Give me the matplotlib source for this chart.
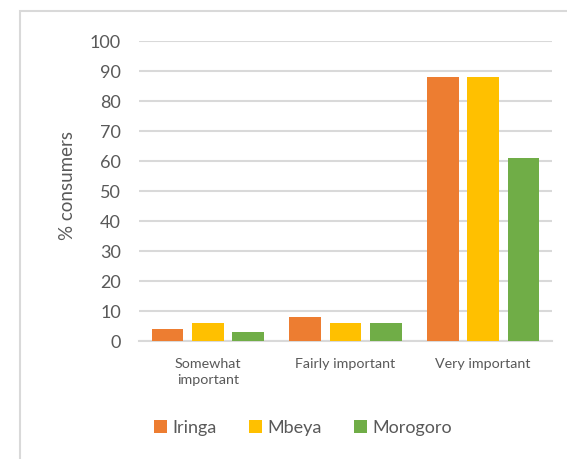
import matplotlib
matplotlib.use("Agg")
import matplotlib.pyplot as plt
from matplotlib.patches import Rectangle
import numpy as np

categories = ["Somewhat\nimportant", "Fairly important", "Very important"]
series_names = ["Iringa", "Mbeya", "Morogoro"]
iringa = [4, 8, 88]
mbeya = [6, 6, 88]
morogoro = [3, 6, 61]
colors = ["#ED7D31", "#FFC000", "#70AD47"]
yticks = [0, 10, 20, 30, 40, 50, 60, 70, 80, 90, 100]

plt.rcParams['font.family'] = ['Lato', 'DejaVu Sans']
W, H = 567, 459
fig = plt.figure(figsize=(W/100, H/100), dpi=100)
ax = fig.add_axes([139/W, 1-341/H, (552-139)/W, 300/H])

x = np.arange(len(categories))
bw = 0.232
step = 0.293
vals = [iringa, mbeya, morogoro]
for i, (name, v, c) in enumerate(zip(series_names, vals, colors)):
    ax.bar(x + (i-1)*step, v, width=bw, color=c, label=name, zorder=3)

ax.set_xlim(-0.5, 2.5)
ax.set_ylim(0, 100)
ax.set_yticks(yticks)
ax.set_yticklabels([str(t) for t in yticks], fontsize=13, color="#595959")
ax.set_xticks(x)
ax.set_xticklabels(categories, fontsize=10.3, color="#595959", linespacing=1.45)
ax.tick_params(axis='both', length=0)
ax.tick_params(axis='y', pad=13)
ax.tick_params(axis='x', pad=12)
ax.grid(axis='y', color="#D9D9D9", linewidth=1.5, zorder=0)
ax.set_axisbelow(True)
for s in ['top', 'right', 'left']:
    ax.spines[s].set_visible(False)
ax.spines['bottom'].set_color("#D9D9D9")
ax.spines['bottom'].set_linewidth(1.5)
ax.set_ylabel("% consumers", fontsize=13.5, color="#595959")
ax.yaxis.set_label_coords((76 - 139) / (552 - 139), (341 - 185) / 300)

fig.legend(loc='center', bbox_to_anchor=(303/W, 1-428/H), ncol=3, frameon=False,
           fontsize=13, labelcolor="#595959", handlelength=0.7, handleheight=0.7,
           handletextpad=0.3, columnspacing=1.8)

fig.patches.append(Rectangle((20/W, -0.1), 1.2, 1-11/H+0.1, transform=fig.transFigure,
                             fill=False, edgecolor="#D9D9D9", linewidth=1.5))

fig.savefig("out.png", dpi=100)
